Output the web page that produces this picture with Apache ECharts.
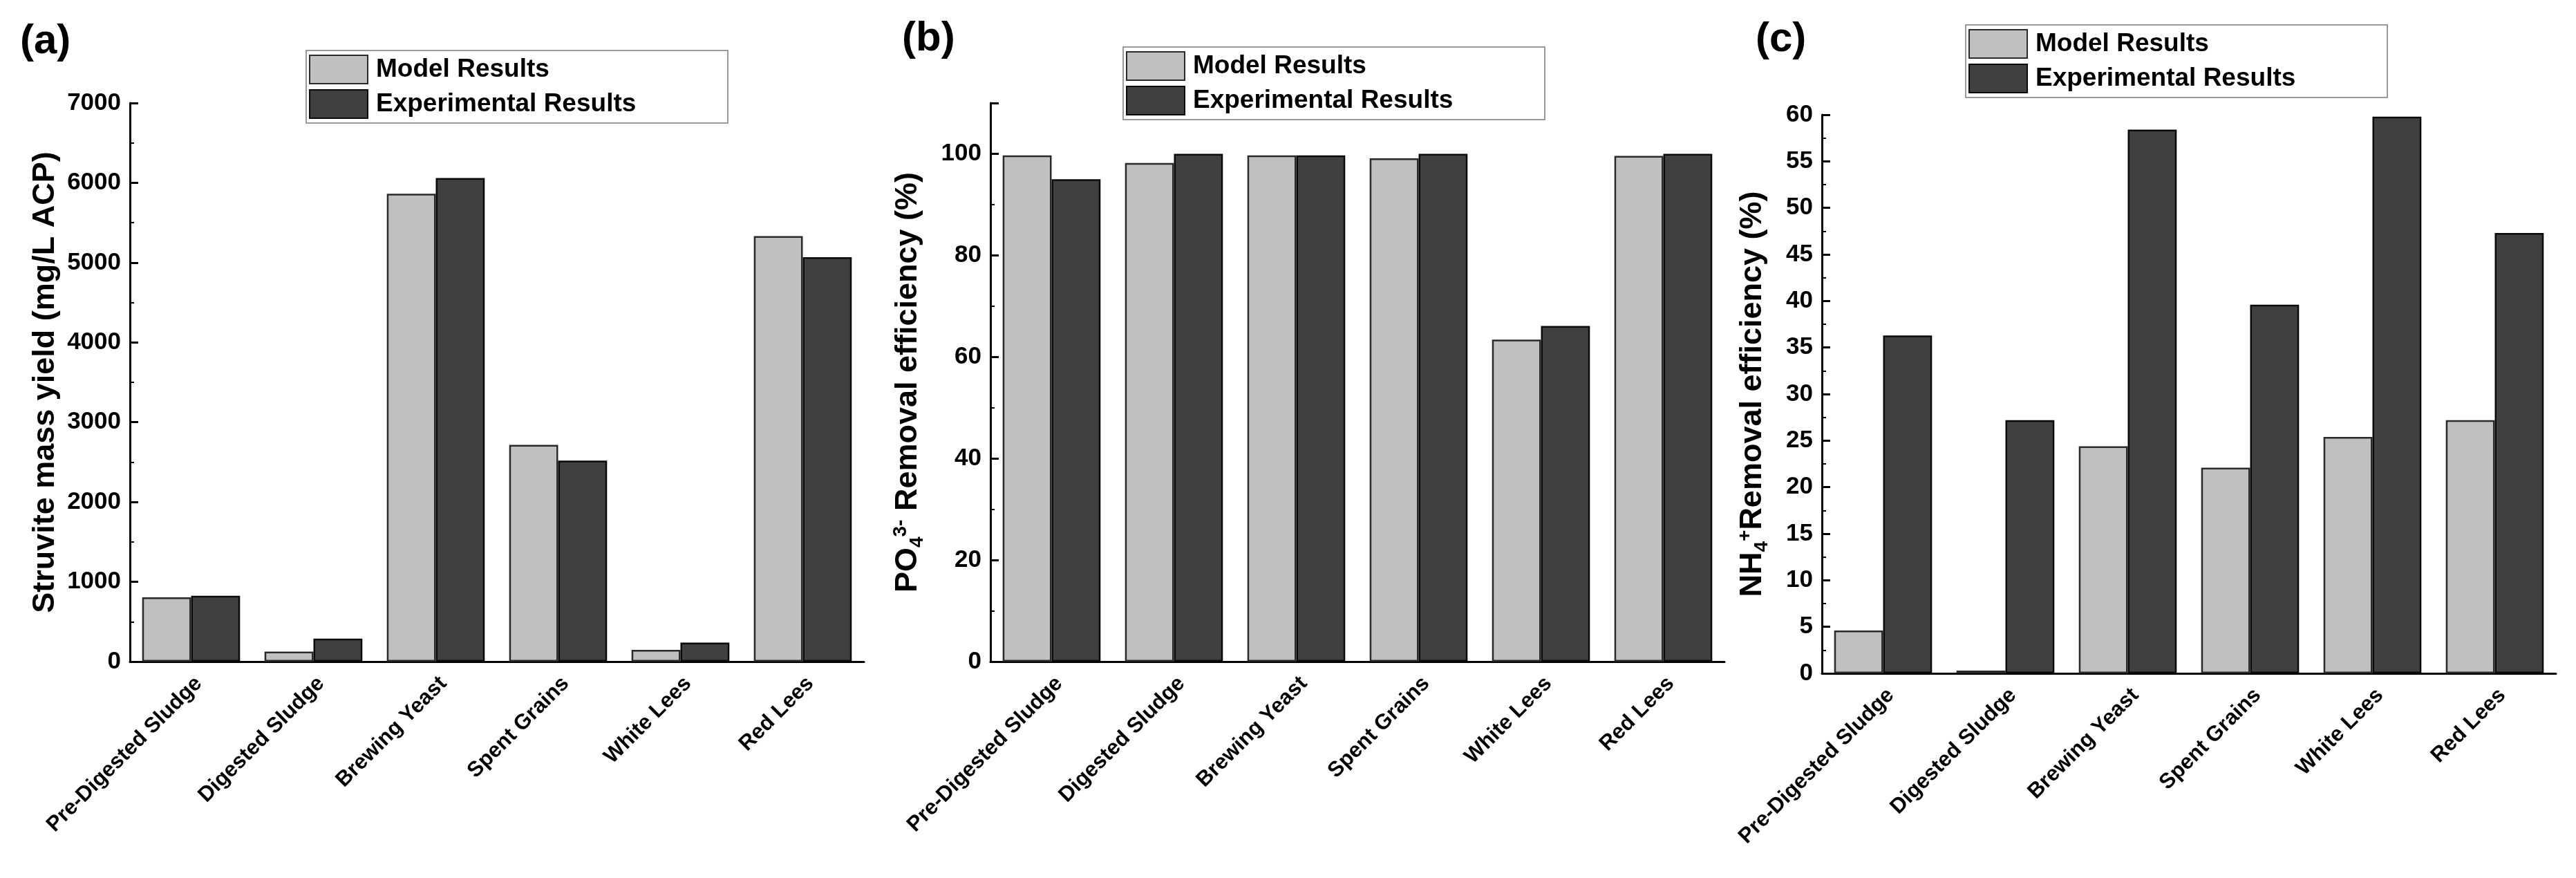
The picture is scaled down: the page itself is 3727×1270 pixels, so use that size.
<!DOCTYPE html>
<html>
<head>
<meta charset="utf-8">
<script src="https://cdn.jsdelivr.net/npm/echarts@6/dist/echarts.min.js"></script>
<style>
html,body{margin:0;padding:0;background:#fff;}
#chart{width:3727px;height:1270px;}
</style>
</head>
<body>
<div id="chart"></div>
<script>
// ---- data ----
const categories = ['Pre-Digested Sludge', 'Digested Sludge', 'Brewing Yeast', 'Spent Grains', 'White Lees', 'Red Lees'];
const seriesNames = ['Model Results', 'Experimental Results'];
const struviteModel = [805, 126, 5864, 2715, 147, 5333];
const struviteExp = [826, 287, 6060, 2519, 238, 5067];
const po4Model = [99.7, 98.2, 99.7, 99.1, 63.4, 99.6];
const po4Exp = [95.0, 100, 99.7, 100, 66.1, 100];
const nh4Model = [4.6, 0.3, 24.4, 22.1, 25.4, 27.2];
const nh4Exp = [36.3, 27.2, 58.4, 39.6, 59.8, 47.3];
const panelLabels = ['(a)', '(b)', '(c)'];
const axisTitles = [
  'Struvite mass yield (mg/L ACP)',
  '{m|PO}{sub|4}{sup|3-}{m| Removal efficiency (%)}',
  '{m|NH}{sub|4}{sup|+}{m|Removal efficiency (%)}'
];

// ---- styling / layout ----
const FONT = '"Liberation Sans", Arial, Helvetica, sans-serif';
const LIGHT = '#c0c0c0';
const DARK = '#404040';
const grids = [
  {left: 188, top: 149, width: 1062, height: 808},
  {left: 1433, top: 149, width: 1062, height: 808},
  {left: 2636, top: 166, width: 1062, height: 808}
];
const yCfg = [
  {min: 0, max: 7000, interval: 1000, nameGap: 100, hideAbove: 7000},
  {min: 0, max: 110, interval: 20, nameGap: 92, hideAbove: 100},
  {min: 0, max: 60, interval: 5, nameGap: 73, hideAbove: 60}
];
const legendPos = [
  {left: 443, top: 73},
  {left: 1625, top: 68},
  {left: 2844, top: 36}
];
const labelPos = [
  {x: 29, y: 64},
  {x: 1305, y: 60},
  {x: 2540, y: 61}
];
const richStyles = {
  m: {fontSize: 45, fontWeight: 'bold', fontFamily: FONT, color: '#000'},
  sub: {fontSize: 28, fontWeight: 'bold', fontFamily: FONT, color: '#000', padding: [26, 0, 0, 0]},
  sup: {fontSize: 28, fontWeight: 'bold', fontFamily: FONT, color: '#000', padding: [0, 0, 22, 0]}
};

const modelData = [struviteModel, po4Model, nh4Model];
const expData = [struviteExp, po4Exp, nh4Exp];

const xAxes = grids.map((g, i) => ({
  type: 'category',
  gridIndex: i,
  data: categories,
  axisLine: {show: true, lineStyle: {color: '#000', width: 3}},
  axisTick: {show: false},
  axisLabel: {
    interval: 0, rotate: 45, margin: 16, verticalAlign: 'top',
    fontSize: 31, fontWeight: 'bold', fontFamily: FONT, color: '#000'
  }
}));

const yAxes = grids.map((g, i) => ({
  type: 'value',
  gridIndex: i,
  min: yCfg[i].min, max: yCfg[i].max, interval: yCfg[i].interval,
  name: axisTitles[i],
  nameLocation: 'middle',
  nameGap: yCfg[i].nameGap,
  nameRotate: 90,
  nameTextStyle: {fontSize: 45, fontWeight: 'bold', fontFamily: FONT, color: '#000', rich: richStyles},
  axisLine: {show: true, onZero: false, lineStyle: {color: '#000', width: 3}},
  axisTick: {show: true, inside: true, length: 12, lineStyle: {color: '#000', width: 3}},
  minorTick: {show: true, splitNumber: 2, length: 6, lineStyle: {color: '#000', width: 2}},
  splitLine: {show: false},
  axisLabel: {
    margin: 13, fontSize: 35, fontWeight: 'bold', fontFamily: FONT, color: '#000',
    formatter: v => (v > yCfg[i].hideAbove ? '' : String(v))
  }
}));

const series = [];
grids.forEach((g, i) => {
  series.push({
    name: seriesNames[0], type: 'bar', xAxisIndex: i, yAxisIndex: i,
    data: modelData[i], barGap: '0%', barCategoryGap: '20%',
    itemStyle: {color: LIGHT, borderColor: '#2a2a2a', borderWidth: 2.5}
  });
  series.push({
    name: seriesNames[1], type: 'bar', xAxisIndex: i, yAxisIndex: i,
    data: expData[i], barGap: '0%', barCategoryGap: '20%',
    itemStyle: {color: DARK, borderColor: '#0a0a0a', borderWidth: 2.5}
  });
});

const legends = legendPos.map(p => ({
  left: p.left, top: p.top,
  orient: 'vertical',
  data: seriesNames,
  icon: 'rect',
  itemWidth: 84, itemHeight: 41, itemGap: 7,
  padding: [6, 4, 6, 4],
  borderColor: '#9a9a9a', borderWidth: 2,
  backgroundColor: '#fff',
  selectedMode: false,
  textStyle: {fontSize: 37, fontWeight: 'bold', fontFamily: FONT, color: '#000',
    lineHeight: 41, width: 505, padding: [0, 0, 0, 7]}
}));

const graphics = labelPos.map((p, i) => ({
  type: 'text', left: p.x, top: p.y - 34,
  style: {text: panelLabels[i], font: 'bold 60px ' + FONT, fill: '#000'}
}));

const chart = echarts.init(document.getElementById('chart'), null, {renderer: 'canvas'});
chart.setOption({
  backgroundColor: '#fff',
  animation: false,
  grid: grids.map(g => Object.assign({containLabel: false}, g)),
  xAxis: xAxes,
  yAxis: yAxes,
  legend: legends,
  series: series,
  graphic: graphics
});
</script>
</body>
</html>
